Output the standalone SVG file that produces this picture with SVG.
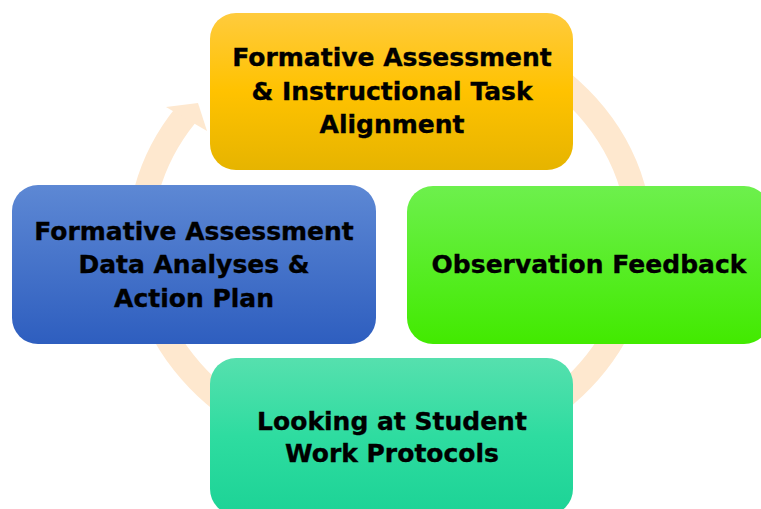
<svg xmlns="http://www.w3.org/2000/svg" width="761" height="509" viewBox="0 0 761 509">
  <defs>
    <linearGradient id="gYellow" x1="0" y1="0" x2="0" y2="1">
      <stop offset="0" stop-color="#FFCB3D"/>
      <stop offset="0.5" stop-color="#FFC200"/>
      <stop offset="1" stop-color="#E6B400"/>
    </linearGradient>
    <linearGradient id="gBlue" x1="0" y1="0" x2="0" y2="1">
      <stop offset="0" stop-color="#5D88D4"/>
      <stop offset="1" stop-color="#2E5EBF"/>
    </linearGradient>
    <linearGradient id="gGreen" x1="0" y1="0" x2="0" y2="1">
      <stop offset="0" stop-color="#6DF04D"/>
      <stop offset="1" stop-color="#42EA00"/>
    </linearGradient>
    <linearGradient id="gTeal" x1="0" y1="0" x2="0" y2="1">
      <stop offset="0" stop-color="#56E0AE"/>
      <stop offset="0.5" stop-color="#2EDCA0"/>
      <stop offset="1" stop-color="#1CD396"/>
    </linearGradient>
    <style>
      .box { stroke: none; }
      .lbl { font-family: "DejaVu Sans", Verdana, sans-serif; font-weight: bold; font-size: 25px; fill: #000000; stroke: #000000; stroke-width: 0.35px; text-anchor: middle; }
      .ring { fill: none; stroke: #FEE8CF; stroke-width: 25; }
      .head { fill: #FEE8CF; }
    </style>
  </defs>
  <rect width="761" height="509" fill="#FFFFFF"/>
  <g id="connectors">
    <path class="ring" d="M 515 52.1 A 250 217 0 1 1 186 114.6"/>
    <polygon class="head" points="166,107 198,103 207,131"/>
  </g>
  <g id="node-alignment">
    <rect class="box" x="210" y="13" width="363" height="157" rx="26" ry="26" fill="url(#gYellow)"/>
    <text class="lbl" x="392" y="66">Formative Assessment</text>
    <text class="lbl" x="392" y="100">&amp; Instructional Task</text>
    <text class="lbl" x="392" y="133">Alignment</text>
  </g>
  <g id="node-data-analyses">
    <rect class="box" x="12" y="185" width="364" height="159" rx="26" ry="26" fill="url(#gBlue)"/>
    <text class="lbl" x="194" y="240">Formative Assessment</text>
    <text class="lbl" x="194" y="273">Data Analyses &amp;</text>
    <text class="lbl" x="194" y="307">Action Plan</text>
  </g>
  <g id="node-observation">
    <rect class="box" x="407" y="186" width="363" height="158" rx="26" ry="26" fill="url(#gGreen)"/>
    <text class="lbl" x="589" y="273">Observation Feedback</text>
  </g>
  <g id="node-student-work">
    <rect class="box" x="210" y="358" width="363" height="157" rx="26" ry="26" fill="url(#gTeal)"/>
    <text class="lbl" x="392" y="430">Looking at Student</text>
    <text class="lbl" x="392" y="462">Work Protocols</text>
  </g>
</svg>
